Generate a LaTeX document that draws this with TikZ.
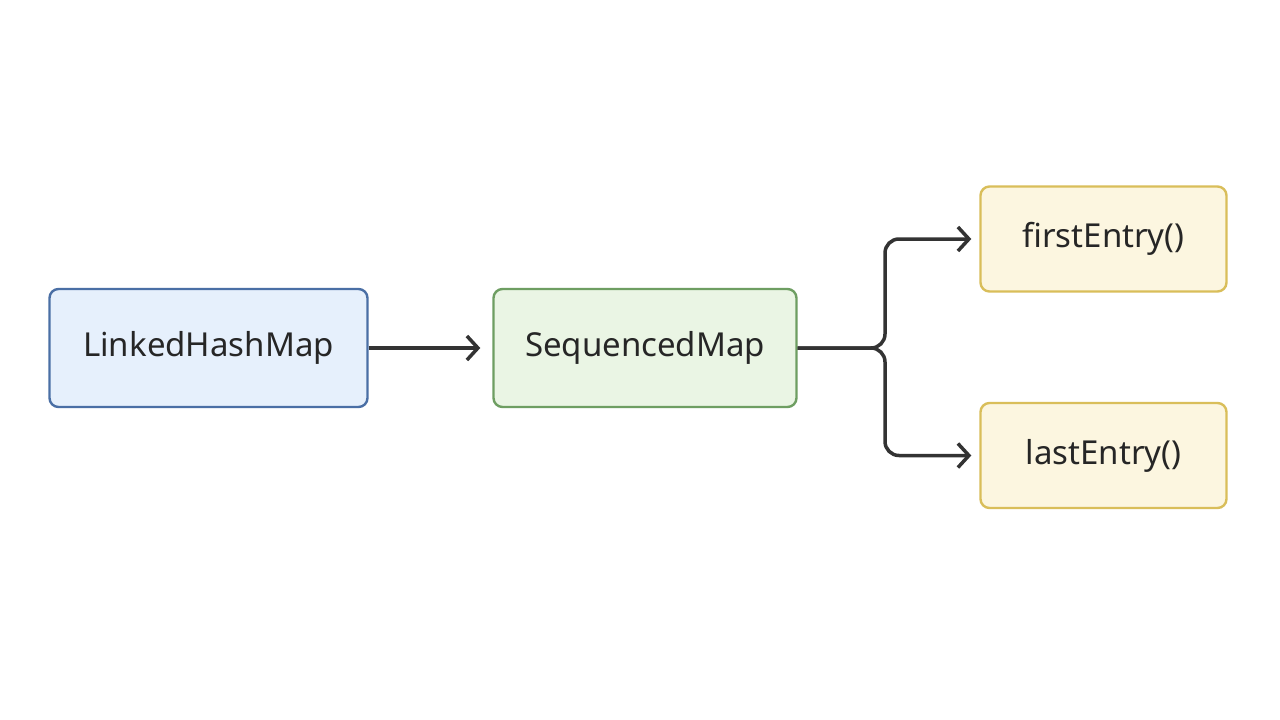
\documentclass[tikz,border=0pt]{standalone}
\usepackage{fontspec}
\setmainfont{Noto Sans}
\usetikzlibrary{arrows.meta}
\definecolor{bfill}{HTML}{E6F0FC}\definecolor{bdraw}{HTML}{4A6FA5}
\definecolor{gfill}{HTML}{EAF5E4}\definecolor{gdraw}{HTML}{6E9E62}
\definecolor{yfill}{HTML}{FCF6E0}\definecolor{ydraw}{HTML}{D9BE5A}
\definecolor{ln}{HTML}{333333}
\begin{document}
\begin{tikzpicture}[x=1pt,y=-1pt,
 box/.style={rounded corners=9pt,line width=2.4pt,minimum height=118pt,font=\fontsize{33}{38}\selectfont,text=black!85,inner sep=0pt},
 conn/.style={draw=ln,line width=3.5pt,-{Straight Barb[length=11pt,width=24pt]},rounded corners=14pt}]
\fill[white] (0,0) rectangle (1280,720);
\node[box,fill=bfill,draw=bdraw,minimum width=318pt] (lhm) at (208.5,348) {LinkedHashMap};
\node[box,fill=gfill,draw=gdraw,minimum width=303pt] (sm) at (645,348) {SequencedMap};
\node[box,fill=yfill,draw=ydraw,minimum width=246pt,minimum height=105pt] (fe) at (1103.5,239) {firstEntry()};
\node[box,fill=yfill,draw=ydraw,minimum width=246pt,minimum height=105pt] (le) at (1103.5,455.5) {lastEntry()};
\coordinate (br) at (885,348);
\draw[conn] (lhm.east) -- ([xshift=-12pt]sm.west);
\draw[conn] (sm.east) -- (br) |- ([xshift=-8pt]fe.west);
\draw[conn] (sm.east) -- (br) |- ([xshift=-8pt]le.west);
\end{tikzpicture}
\end{document}
